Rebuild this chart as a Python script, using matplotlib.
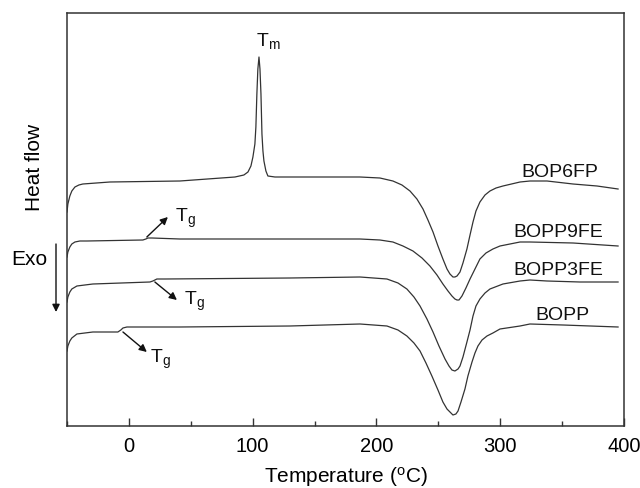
import matplotlib
matplotlib.use("Agg")
import matplotlib.pyplot as plt
from matplotlib.ticker import MultipleLocator

plt.rcParams['font.family'] = ['Liberation Sans', 'DejaVu Sans']
plt.rcParams['mathtext.fontset'] = 'custom'
plt.rcParams['mathtext.rm'] = 'Liberation Sans'
plt.rcParams['mathtext.it'] = 'Liberation Sans'

# DSC traces (temperature in C, heat flow in arbitrary units, offset)
t_bop6fp = [-50, -49.3, -47.7, -46.1, -43.6, -40.4, -37.2, -15.4, 41.2,
            85.7, 92.9, 96.2, 98.6, 100.2, 101.8, 102.6, 103.4, 104.2, 105.1, 105.9,
            106.7, 107.5, 108.3, 109.1, 110.7, 112.3, 118.0,
            186.7, 202.8, 213.3, 220.6, 227.1, 232.7, 237.6, 241.6, 245.7, 249.7, 253.7,
            257.0, 259.4, 261.8, 263.4, 265.1, 267.5, 269.9, 273.1, 275.6, 278.0, 280.4,
            283.6, 287.7, 291.7, 296.6, 302.2, 316.0, 324.0, 337.8, 358.8, 378.2, 395.2]
h_bop6fp = [214, 222, 230, 235, 239, 241, 242, 244, 245,
            249, 251, 254, 260, 269, 282, 299, 332, 357, 369, 357,
            332, 292, 275, 265, 255, 250, 249,
            249, 248, 245, 241, 235, 227, 217, 206, 194, 180, 167,
            157, 152, 149, 149, 150, 154, 163, 177, 191, 204, 215,
            224, 231, 235, 238, 240, 244, 245, 245, 242, 240, 237]

t_bopp9fe = [-50, -49.3, -47.7, -46.1, -43.6, -39.6, -33.9, 11.3, 13.7, 15.4, 18.6,
             41.2, 130.1, 186.7, 202.8, 213.3, 221.4, 229.5, 236.8, 243.2, 248.9, 253.7,
             257.8, 261.0, 263.4, 265.1, 266.7, 269.1, 272.3, 275.6, 279.6, 283.6, 288.5,
             294.1, 299.8, 307.9, 316.0, 324.0, 358.8, 395.2]
h_bopp9fe = [169, 174, 179, 182, 184, 185, 185, 186, 187, 188, 188,
             187, 187, 187, 186, 184, 180, 175, 168, 160, 151, 142,
             135, 130, 127, 126, 126, 130, 138, 147, 157, 167, 173,
             177, 180, 182, 184, 184, 183, 180]

t_bopp3fe = [-50, -49.3, -47.7, -46.1, -42.0, -35.6, -29.1, 17.0, 19.4, 22.6, 29.1,
             130.1, 186.7, 208.5, 217.4, 224.6, 230.3, 235.2, 240.8, 245.7, 250.5, 255.4,
             258.6, 261.0, 263.4, 265.9, 267.5, 269.9, 273.1, 275.6, 278.0, 280.4, 283.6,
             287.7, 291.7, 302.2, 316.0, 324.0, 337.8, 364.4, 395.2]
h_bopp3fe = [124, 129, 134, 137, 140, 141, 142, 144, 145, 147, 147,
             148, 149, 147, 143, 137, 129, 120, 107, 94, 80, 67,
             60, 56, 55, 57, 60, 69, 84, 96, 110, 120, 127,
             133, 137, 142, 145, 146, 145, 144, 144]

t_bopp = [-50, -49.3, -47.7, -46.1, -42.0, -35.6, -29.1, -8.9, -6.5, -4.8, -1.6,
          41.2, 130.1, 186.7, 208.5, 217.4, 224.6, 230.3, 235.2, 240.0, 244.8, 249.7,
          253.7, 257.0, 259.4, 261.8, 264.2, 265.9, 268.3, 271.5, 273.9, 277.2, 279.6,
          282.0, 285.3, 289.3, 294.1, 299.8, 316.0, 324.0, 350.7, 395.2]
h_bopp = [75, 80, 85, 88, 92, 93, 94, 94, 96, 98, 99,
          99, 100, 102, 100, 96, 90, 83, 75, 63, 50, 36,
          24, 17, 14, 11, 12, 15, 24, 37, 50, 64, 73,
          80, 86, 90, 93, 97, 100, 102, 101, 99]

names = ['BOP6FP', 'BOPP9FE', 'BOPP3FE', 'BOPP']
name_x = [348, 347, 347, 350]
name_y = [250, 190, 152, 107]

ink = '#333333'
fig = plt.figure(figsize=(6.4, 4.89), dpi=100)
ax = fig.add_axes([67 / 640, 62 / 489, 557 / 640, 413 / 489])

for t, h in [(t_bop6fp, h_bop6fp), (t_bopp9fe, h_bopp9fe),
             (t_bopp3fe, h_bopp3fe), (t_bopp, h_bopp)]:
    ax.plot(t, h, color=ink, lw=0.9, solid_joinstyle='round')

for n, x, y in zip(names, name_x, name_y):
    ax.text(x, y, n, ha='center', va='baseline', fontsize=14, color='#111111')

# melting peak and glass transitions
ax.text(102.6, 381, r'T$_\mathregular{m}$', fontsize=14, va='baseline', color='#111111')
tg_arrows = [((14.5, 189), (31.5, 209), (37.2, 205)),
             ((21.0, 144), (38.8, 126), (44.4, 122)),
             ((-4.8, 94), (14.5, 74), (17.0, 64))]
for tail, head, lab in tg_arrows:
    ax.annotate('', xy=head, xytext=tail,
                arrowprops=dict(arrowstyle='-|>', color='#111111', lw=1.0,
                                mutation_scale=11, shrinkA=0, shrinkB=0))
    ax.text(lab[0], lab[1], r'T$_\mathregular{g}$', fontsize=14, va='baseline',
            color='#111111')

ax.set_xlim(-50, 400)
ax.set_ylim(0, 413)
ax.xaxis.set_major_locator(MultipleLocator(100))
ax.xaxis.set_minor_locator(MultipleLocator(50))
ax.set_yticks([])
ax.tick_params(axis='x', which='major', direction='in', length=6, width=1.0,
               color=ink, labelsize=14.5, pad=7, top=False)
ax.tick_params(axis='x', which='minor', direction='in', length=3.5, width=1.0,
               color=ink, top=False)
for s in ax.spines.values():
    s.set_linewidth(1.1)
    s.set_color(ink)

ax.set_xlabel(r'Temperature ($^\mathregular{o}$C)', fontsize=15, labelpad=7)

fig.text(34.5 / 640, (489 - 167) / 489, 'Heat flow', rotation=90, fontsize=15,
         ha='center', va='center')
fig.text(11 / 640, (489 - 265) / 489, 'Exo', fontsize=15, ha='left', va='baseline')
ax.annotate('', xy=(56, 489 - 313), xytext=(56, 489 - 245),
            xycoords='figure pixels', textcoords='figure pixels',
            arrowprops=dict(arrowstyle='-|>', color='#111111', lw=1.0,
                            mutation_scale=11, shrinkA=0, shrinkB=0),
            annotation_clip=False)

fig.savefig('out.png', dpi=100)
